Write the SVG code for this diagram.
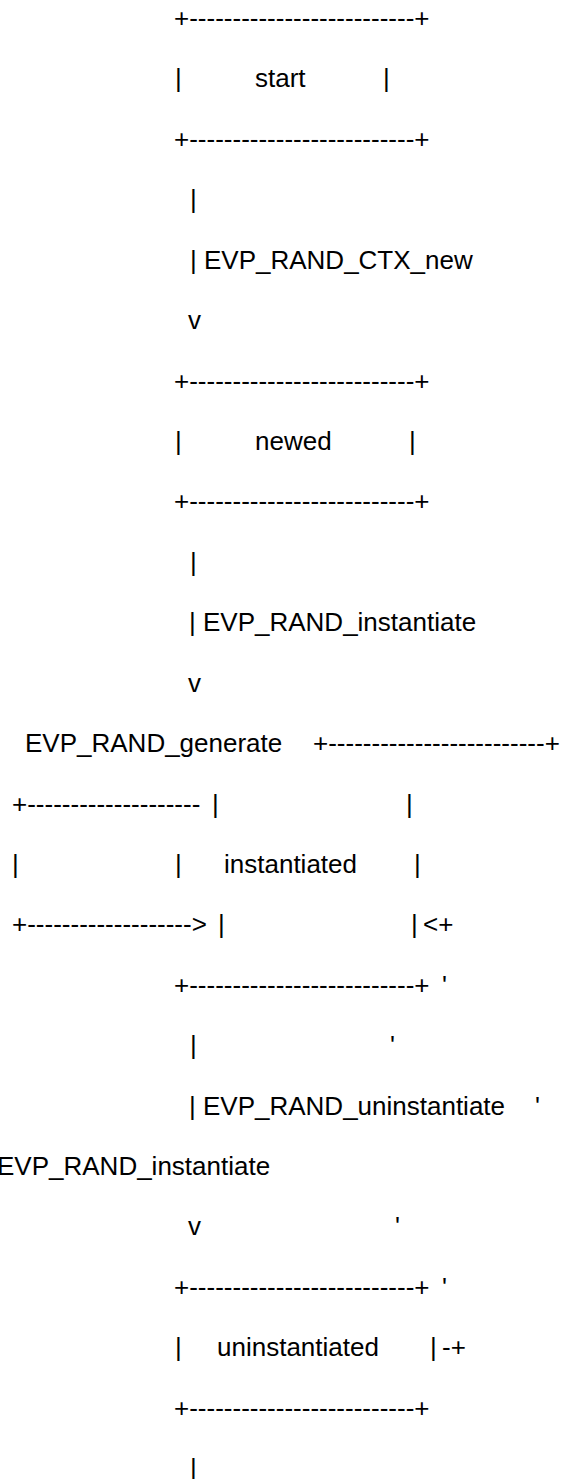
<svg xmlns="http://www.w3.org/2000/svg" width="568" height="1479" viewBox="0 0 568 1479">
<style>
text { font-family: "Liberation Sans", Arial, sans-serif; font-size: 26px; fill: #000; white-space: pre; }
</style>
<rect width="568" height="1479" fill="#fff"/>
<g id="node-start">
<text x="174" y="27">+--------------------------+</text>
<text x="175" y="87.4">|</text><text x="255" y="87.4">start</text><text x="383" y="87.4">|</text>
<text x="174" y="147.8">+--------------------------+</text>
</g>
<g id="node-newed">
<text x="174" y="389.5">+--------------------------+</text>
<text x="175" y="449.9">|</text><text x="255" y="449.9">newed</text><text x="409" y="449.9">|</text>
<text x="174" y="510.4">+--------------------------+</text>
</g>
<g id="node-instantiated">
<text x="313" y="752">+-------------------------+</text>
<text x="212" y="812.5">|</text><text x="406" y="812.5">|</text>
<text x="175" y="872.9">|</text><text x="224" y="872.9">instantiated</text><text x="414" y="872.9">|</text>
<text x="218" y="933.3">|</text><text x="411" y="933.3">|</text>
<text x="174" y="993.7">+--------------------------+</text>
</g>
<g id="node-uninstantiated">
<text x="174" y="1295.8">+--------------------------+</text>
<text x="175" y="1356.2">|</text><text x="217" y="1356.2">uninstantiated</text><text x="430" y="1356.2">|</text>
<text x="174" y="1416.7">+--------------------------+</text>
</g>
<g id="connectors">
<text x="190" y="208.3">|</text>
<text x="190" y="268.7">| EVP_RAND_CTX_new</text>
<text x="188" y="329.1">v</text>
<text x="190" y="570.8">|</text>
<text x="189" y="631.2">| EVP_RAND_instantiate</text>
<text x="188" y="691.6">v</text>
<text x="25" y="752">EVP_RAND_generate</text>
<text x="12" y="812.5">+--------------------</text>
<text x="12" y="872.9">|</text>
<text x="12" y="933.3">+-------------------&gt;</text>
<text x="423" y="933.3">&lt;+</text>
<text x="442" y="993.7">'</text>
<text x="190" y="1054.1">|</text><text x="390" y="1054.1">'</text>
<text x="189" y="1114.6">| EVP_RAND_uninstantiate</text><text x="535" y="1114.6">'</text>
<text x="-3" y="1175">EVP_RAND_instantiate</text>
<text x="188" y="1235.4">v</text><text x="395" y="1235.4">'</text>
<text x="442" y="1295.8">'</text>
<text x="442" y="1356.2">-+</text>
<text x="190" y="1477.1">|</text>
</g>
</svg>
